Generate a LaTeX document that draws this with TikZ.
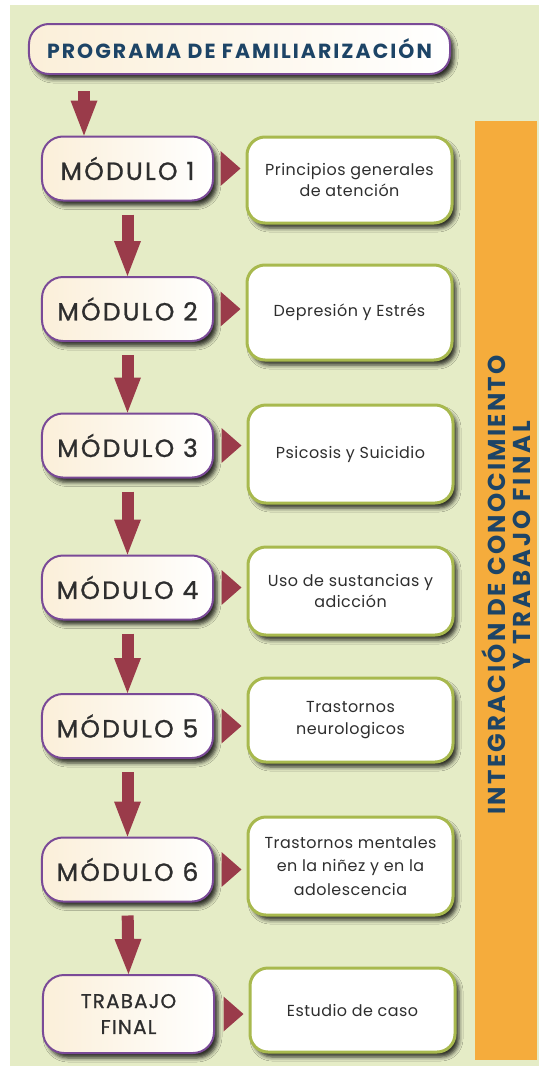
\documentclass[tikz,border=0pt]{standalone}
\usepackage{fontspec}
\setmainfont{Poppins}
\usetikzlibrary{arrows.meta,shadows.blur}
\definecolor{panel}{HTML}{E5ECC6}
\definecolor{cream}{HTML}{FBEFD9}
\definecolor{purp}{HTML}{7A4A97}
\definecolor{olive}{HTML}{A8B94E}
\definecolor{arrowred}{HTML}{9A3B4A}
\definecolor{orangebar}{HTML}{F5AC3C}
\definecolor{navy}{HTML}{1D4466}
\definecolor{txt}{HTML}{2E2E2E}
\tikzset{
  shad/.style={blur shadow={shadow xshift=4bp, shadow yshift=-5bp, shadow blur radius=4bp, shadow opacity=80}},
  modbox/.style={shad, draw=purp, line width=2bp, rounded corners=21bp, left color=cream, right color=white,
    minimum width=171bp, minimum height=64bp, inner sep=0pt, text=txt, align=center,
    font=\fontsize{25}{26}\selectfont\addfontfeatures{LetterSpace=9,FakeBold=1}},
  titlebox/.style={modbox, minimum width=421bp, minimum height=50bp, rounded corners=20bp,
    text=navy, font=\fontsize{20.5}{22}\selectfont\bfseries\addfontfeatures{LetterSpace=10}},
  topicbox/.style={shad, draw=olive, line width=3bp, rounded corners=18bp, fill=white,
    minimum width=205bp, inner sep=0pt, text=txt, align=center,
    font=\fontsize{16}{22}\selectfont\addfontfeatures{LetterSpace=3}},
  downarrow/.style={draw=arrowred, line width=12bp, -{Triangle[width=27bp,length=35bp,line width=0pt]}, shorten <=13bp},
  sidearrow/.style={draw=arrowred, line width=0.1bp, -{Triangle[width=35bp,length=20bp,line width=0pt]}, shorten <=9bp, shorten >=5bp},
  vtext/.style={rotate=90, anchor=base, text=navy, inner sep=0pt}
}
\begin{document}
\begin{tikzpicture}[x=1bp,y=-1bp]
\useasboundingbox (0,0) rectangle (539,1068);
\fill[white] (0,0) rectangle (539,1068);
\fill[panel] (10,5) rectangle (539,1066);
\fill[orangebar] (475,121) rectangle (537,1060);
\node[vtext, font=\fontsize{24.5}{26}\selectfont\bfseries\addfontfeatures{LetterSpace=9}] (v1) at (505,585) {INTEGRACIÓN DE CONOCIMIENTO};
\node[vtext, font=\fontsize{24.5}{26}\selectfont\bfseries\addfontfeatures{LetterSpace=13}] (v2) at (530,545) {Y TRABAJO FINAL};

\node[titlebox] (t) at (239.5,49) {PROGRAMA DE FAMILIARIZACIÓN};

\node[modbox] (m1) at (127.5,168.5) {MÓDULO 1};
\node[modbox] (m2) at (127.5,309) {MÓDULO 2};
\node[modbox] (m3) at (127.5,445.5) {MÓDULO 3};
\node[modbox] (m4) at (127.5,587.5) {MÓDULO 4};
\node[modbox] (m5) at (127.5,726) {MÓDULO 5};
\node[modbox] (m6) at (127.5,869.5) {MÓDULO 6};
\node[modbox, minimum height=78bp, font=\fontsize{20}{26}\selectfont\addfontfeatures{LetterSpace=6,FakeBold=1}] (m7) at (128.5,1014) {TRABAJO\\FINAL};

\node[topicbox, minimum height=86bp] (b1) at (349.5,180) {Principios generales\\de atención};
\node[topicbox, minimum height=95bp] (b2) at (349.5,312.5) {Depresión y Estrés};
\node[topicbox, minimum height=98bp] (b3) at (350.5,454) {Psicosis y Suicidio};
\node[topicbox, minimum height=88bp] (b4) at (350.5,591) {Uso de sustancias y\\adicción};
\node[topicbox, minimum height=84bp] (b5) at (350.5,720) {Trastornos\\neurologicos};
\node[topicbox, minimum height=98bp, font=\fontsize{16}{23.5}\selectfont\addfontfeatures{LetterSpace=3}] (b6) at (350.5,866) {Trastornos mentales\\en la niñez y en la\\adolescencia};
\node[topicbox, minimum height=84bp] (b7) at (352.5,1010) {Estudio de caso};

\coordinate (a0) at (84,91);
\draw[downarrow, shorten <=0bp] (a0) -- (a0 |- m1.north);
\draw[downarrow] (m1.south) -- (m2.north);
\draw[downarrow] (m2.south) -- (m3.north);
\draw[downarrow] (m3.south) -- (m4.north);
\draw[downarrow] (m4.south) -- (m5.north);
\draw[downarrow] (m5.south) -- (m6.north);
\draw[downarrow] (m6.south) -- (m7.north);

\foreach \i in {1,...,7} {
  \draw[sidearrow] (m\i.east) -- (m\i.east -| b\i.west);
}
\end{tikzpicture}
\end{document}
